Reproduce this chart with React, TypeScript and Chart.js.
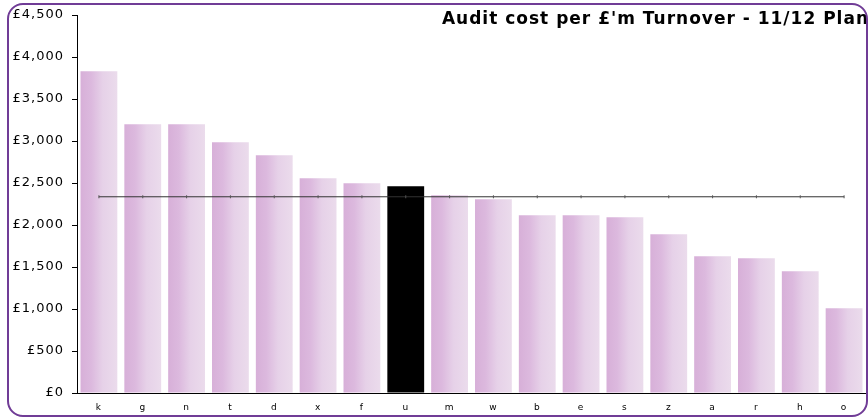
import React, { useEffect, useRef } from "react";
import { Chart, registerables } from "chart.js";

Chart.register(...registerables);

const categories = ["k", "g", "n", "t", "d", "x", "f", "u", "m", "w", "b", "e", "s", "z", "a", "r", "h", "o"];
const costValues = [3830, 3199, 3199, 2985, 2830, 2556, 2496, 2461, 2354, 2306, 2115, 2115, 2092, 1889, 1627, 1604, 1449, 1008];
const averageValue = 2336;
const highlightCategory = "u";
const titleText = "Audit cost per £'m Turnover - 11/12 Plan";

const FONT = '"DejaVu Sans"';

export default function App() {
  const ref = useRef<HTMLCanvasElement | null>(null);

  useEffect(() => {
    const canvas = ref.current;
    if (!canvas) return;

    const spacingPlugin = {
      id: "letterSpacing",
      beforeDraw(chart: any) {
        (chart.ctx as any).letterSpacing = "1px";
      },
    };

    const titlePlugin = {
      id: "cornerTitle",
      afterDraw(chart: any) {
        const c = chart.ctx;
        c.save();
        (c as any).letterSpacing = "1px";
        c.font = `bold 17px ${FONT}`;
        c.fillStyle = "#000";
        c.textAlign = "right";
        c.textBaseline = "alphabetic";
        c.fillText(titleText, 869, 24);
        c.restore();
      },
    };

    const barFill = (ctx: any) => {
      const chart = ctx.chart;
      if (categories[ctx.dataIndex] === highlightCategory) return "#000000";
      const xs = chart.scales && chart.scales.x;
      if (!xs || !chart.chartArea) return "#E0C4E2";
      const cx = xs.getPixelForValue(ctx.dataIndex);
      const half = 19;
      const g = chart.ctx.createLinearGradient(cx - half, 0, cx + half, 0);
      g.addColorStop(0, "#D7AFD8");
      g.addColorStop(0.3, "#DCB9DE");
      g.addColorStop(0.6, "#E6D1E8");
      g.addColorStop(1, "#EBDCEC");
      return g;
    };

    const chart = new Chart(canvas, {
      type: "bar",
      data: {
        labels: categories,
        datasets: [
          {
            type: "line",
            data: categories.map(() => averageValue),
            borderColor: "#333",
            borderWidth: 1,
            pointStyle: "line",
            pointRotation: 90,
            pointRadius: 1.5,
            pointBorderColor: "#555",
            pointBorderWidth: 1,
            fill: false,
            order: 0,
          } as any,
          {
            type: "bar",
            data: costValues,
            backgroundColor: barFill,
            borderWidth: 0,
            categoryPercentage: 1,
            barPercentage: 0.84,
            order: 1,
          },
        ],
      },
      options: {
        responsive: false,
        animation: false,
        devicePixelRatio: 1,
        layout: { padding: { left: 0, right: 0, top: 15, bottom: 0 } },
        plugins: {
          legend: { display: false },
          tooltip: { enabled: false },
          title: { display: false },
        },
        scales: {
          x: {
            grid: { display: true, drawOnChartArea: false, drawTicks: false },
            border: { display: true, color: "#000", width: 1 },
            ticks: {
              color: "#000",
              font: { family: FONT, size: 9 },
              padding: 9,
              maxRotation: 0,
              autoSkip: false,
            },
            afterFit(scale: any) {
              scale.height = 26;
              scale.paddingLeft = 0;
              scale.paddingRight = 0;
            },
          },
          y: {
            min: 0,
            max: 4500,
            grid: { display: true, drawOnChartArea: false, drawTicks: true, tickLength: 5, color: "#000" },
            border: { display: true, color: "#000", width: 1 },
            ticks: {
              stepSize: 500,
              color: "#000",
              padding: 8,
              font: { family: FONT, size: 13 },
              callback: (v: any) => "£" + Number(v).toLocaleString("en-GB"),
            },
            afterFit(scale: any) {
              scale.width = 77;
              scale.paddingTop = 0;
              scale.paddingBottom = 0;
            },
          },
        },
      },
      plugins: [spacingPlugin, titlePlugin],
    });

    return () => chart.destroy();
  }, []);

  return (
    <div
      style={{
        position: "fixed",
        left: 0,
        top: 0,
        width: 868,
        height: 419,
        overflow: "hidden",
        background: "#fff",
      }}
    >
      <canvas ref={ref} width={871} height={419} style={{ display: "block", width: 871, height: 419 }} />
      <div
        style={{
          position: "absolute",
          left: 7,
          top: 3,
          width: 861,
          height: 414,
          boxSizing: "border-box",
          border: "2px solid #703C96",
          borderRadius: 16,
          pointerEvents: "none",
        }}
      />
    </div>
  );
}
